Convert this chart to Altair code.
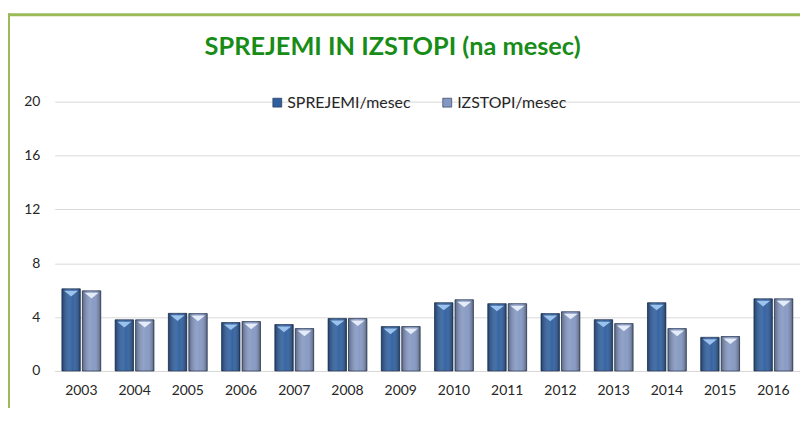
import altair as alt
import pandas as pd

years = [str(y) for y in range(2003, 2017)]
sprejemi = [6.1, 3.8, 4.28, 3.6, 3.45, 3.9, 3.3, 5.07, 5.0, 4.26, 3.81, 5.07, 2.5, 5.36]
izstopi = [5.95, 3.8, 4.26, 3.67, 3.15, 3.9, 3.3, 5.29, 5.0, 4.4, 3.52, 3.15, 2.56, 5.36]
series = ["SPREJEMI/mesec", "IZSTOPI/mesec"]
colors = ["#2f5f9f", "#8598c3"]
tri_colors = ["#9cc2ee", "#e3ecf8"]
y_ticks = [0, 4, 8, 12, 16, 20]
title_text = "SPREJEMI IN IZSTOPI (na mesec)"

rows = []
for i, yr in enumerate(years):
    rows.append({"year": yr, "series": series[0], "value": sprejemi[i]})
    rows.append({"year": yr, "series": series[1], "value": izstopi[i]})
df = pd.DataFrame(rows)
bdf = pd.DataFrame({"k": [0]})

FONT = "Lato"

x = alt.X(
    "year:N", sort=years, title=None,
    scale=alt.Scale(paddingInner=0.27, paddingOuter=0.135),
    axis=alt.Axis(labelAngle=0, ticks=False, domain=True, domainColor="#d9d9d9",
                  labelPadding=13, labelFontSize=14, labelColor="#262626", labelFont=FONT),
)
xo = alt.XOffset("series:N", sort=series, scale=alt.Scale(domain=series, paddingInner=0.1))
y = alt.Y(
    "value:Q", title=None,
    scale=alt.Scale(domain=[0, 20], nice=False),
    axis=alt.Axis(values=y_ticks, ticks=False, domain=False, gridColor="#d9d9d9",
                  labelPadding=15, labelFontSize=14, labelColor="#262626", labelFont=FONT),
)

base = alt.Chart(df)

bars = base.mark_bar(stroke="#1c2d4a", strokeWidth=0.7).encode(
    x=x, xOffset=xo, y=y,
    color=alt.Color(
        "series:N", sort=series,
        scale=alt.Scale(domain=series, range=colors),
        legend=alt.Legend(
            title=None, orient="none", legendX=216, legendY=-7, direction="horizontal",
            symbolType="square", symbolSize=81, symbolStrokeColor="#1c2d4a",
            symbolStrokeWidth=0.6, labelFont=FONT, labelFontSize=16,
            labelColor="#262626", columnPadding=28, labelOffset=2,
        ),
    ),
)

shade = base.mark_bar(
    fill=alt.Gradient(
        gradient="linear", x1=0, x2=1, y1=0, y2=0,
        stops=[
            alt.GradientStop(color="rgba(0,0,0,0.32)", offset=0),
            alt.GradientStop(color="rgba(255,255,255,0.10)", offset=0.45),
            alt.GradientStop(color="rgba(255,255,255,0.04)", offset=0.6),
            alt.GradientStop(color="rgba(0,0,0,0.35)", offset=1),
        ],
    ),
).encode(x=x, xOffset=xo, y=y)

tri_shape = "M-1,0 L1,0 L0,0.8 Z"
tris = []
for s, c in zip(series, tri_colors):
    tris.append(
        base.transform_filter(alt.datum.series == s)
        .mark_point(shape=tri_shape, size=200, filled=True, fill=c, opacity=1,
                    strokeWidth=0, yOffset=2)
        .encode(x=x, xOffset=xo, y=y)
    )

border_top = alt.Chart(bdf).mark_rule(color="#9bbb59", strokeWidth=3).encode(
    x=alt.value(-48), x2=alt.value(760), y=alt.value(-87.5)
)
border_left = alt.Chart(bdf).mark_rule(color="#9bbb59", strokeWidth=3).encode(
    x=alt.value(-46.5), y=alt.value(-89), y2=alt.value(320)
)

chart = alt.layer(bars, shade, *tris, border_top, border_left).properties(
    width=750, height=271,
    padding={"left": 47, "top": 93, "right": 0, "bottom": 36},
    autosize=alt.AutoSizeParams(type="none"),
    title=alt.Title(title_text, font=FONT, fontSize=25.5, fontWeight="bold",
                    color="#178c17", anchor="middle", dx=-35, offset=0, dy=49),
).configure_view(strokeWidth=0)

chart.save("out.html", embed_options={"renderer": "svg", "actions": False})
